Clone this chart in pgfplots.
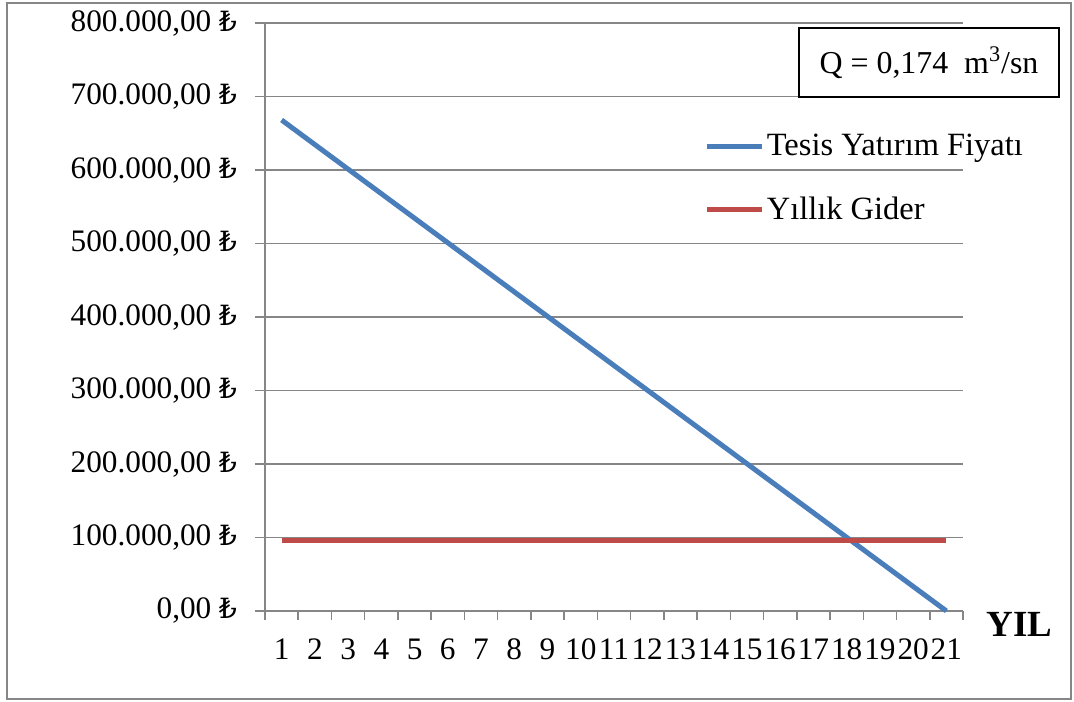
\documentclass[border=0pt]{standalone}
\usepackage{fontspec}
\setmainfont{Liberation Serif}
\newfontfamily\dejavu{DejaVu Serif}
\usepackage{pgfplots}
\pgfplotsset{compat=1.18}
\definecolor{gridgray}{RGB}{134,134,134}
\definecolor{lblue}{RGB}{74,126,187}
\definecolor{lred}{RGB}{190,75,72}
\newcommand{\TL}{{\dejavu\fontsize{14}{15}\selectfont ₺}}
\begin{document}
\begin{tikzpicture}
\useasboundingbox (0,0) rectangle (537bp,351bp);
\draw[gridgray, line width=1bp] (3.5bp,1.5bp) rectangle (535.5bp,349.5bp);
\begin{axis}[
  at={(132.5bp,45.5bp)}, anchor=south west,
  scale only axis, width=349bp, height=294bp,
  xmin=0.5, xmax=21.5, ymin=0, ymax=800000,
  clip=false,
  scaled y ticks=false,
  axis x line*=bottom, axis y line*=left,
  axis line style={gridgray, line width=0.75bp, -},
  tick align=outside,
  xtick={1,2,3,4,5,6,7,8,9,10,11,12,13,14,15,16,17,18,19,20,21},
  xticklabels={1,2,3,4,5,6,7,8,9,10,11,12,13,14,15,16,17,18,19,20,21},
  major x tick style={draw=none},
  minor xtick={0.5,1.5,...,21.5},
  minor tick length=4.5bp,
  major tick length=5bp,
  ytick={0,100000,200000,300000,400000,500000,600000,700000,800000},
  yticklabels={{0,00 \TL},{100.000,00 \TL},{200.000,00 \TL},{300.000,00 \TL},{400.000,00 \TL},{500.000,00 \TL},{600.000,00 \TL},{700.000,00 \TL},{800.000,00 \TL}},
  ymajorgrids, grid style={gridgray, line width=0.75bp},
  tick style={gridgray, line width=0.75bp},
  ticklabel style={font=\fontsize{15.7}{18}\selectfont, text=black},
  yticklabel style={xshift=-5.5bp},
  xticklabel style={yshift=-5.5bp},
  legend style={draw=none, fill=none, at={(0.629,0.818)}, anchor=north west,
    inner sep=0pt, row sep=15bp, font=\fontsize{16.3}{18}\selectfont,
    nodes={inner xsep=1.2bp},
    cells={anchor=west}},
  legend cell align=left,
  legend image code/.code={\draw[#1] (0bp,0bp) -- (27.5bp,0bp);},
]
\addplot[lblue, line width=2.5bp] coordinates {
(1,668000) (2,634600) (3,601200) (4,567800) (5,534400) (6,501000) (7,467600)
(8,434200) (9,400800) (10,367400) (11,334000) (12,300600) (13,267200) (14,233800)
(15,200400) (16,167000) (17,133600) (18,100200) (19,66800) (20,33400) (21,0)};
\addlegendentry{Tesis Yatırım Fiyatı}
\addplot[lred, line width=2.5bp] coordinates {
(1,95500) (2,95500) (3,95500) (4,95500) (5,95500) (6,95500) (7,95500)
(8,95500) (9,95500) (10,95500) (11,95500) (12,95500) (13,95500) (14,95500)
(15,95500) (16,95500) (17,95500) (18,95500) (19,95500) (20,95500) (21,95500)};
\addlegendentry{Yıllık Gider}
\end{axis}
\node[anchor=west, font=\fontsize{18.5}{20}\selectfont\bfseries, inner sep=0pt] at (493bp,39bp) {YIL};
\node[draw=black, line width=0.75bp, minimum width=130bp, minimum height=34.5bp, inner sep=0pt,
  font=\fontsize{16}{18}\selectfont] at (464.5bp,319.75bp) {Q = 0,174~~m\textsuperscript{3}/sn};
\end{tikzpicture}
\end{document}
